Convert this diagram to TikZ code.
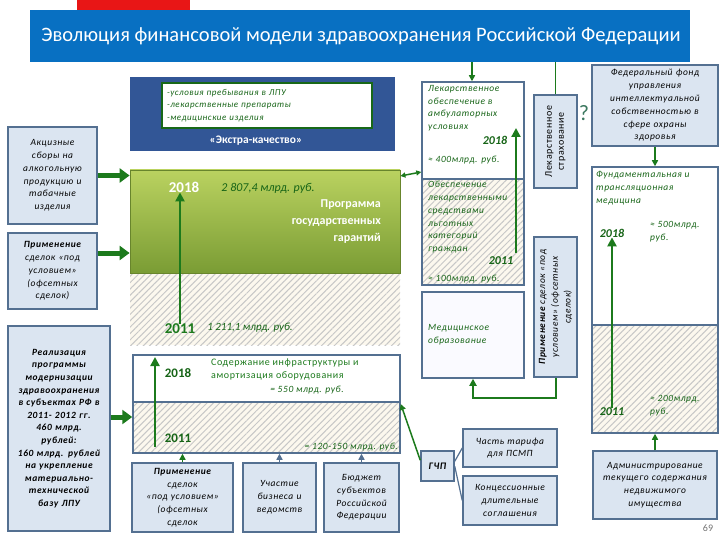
\documentclass[tikz,border=0pt]{standalone}
\usepackage{fontspec}
\setmainfont{Carlito}
\newfontfamily\lsf[LetterSpace=6]{Carlito}
\usetikzlibrary{arrows.meta,patterns.meta}
\definecolor{band}{RGB}{8,112,194}
\definecolor{redc}{RGB}{232,22,22}
\definecolor{dkblue}{RGB}{50,86,150}
\definecolor{bord}{RGB}{84,112,145}
\definecolor{lblue}{RGB}{219,229,241}
\definecolor{garrow}{RGB}{28,122,28}
\definecolor{gtext}{RGB}{22,100,22}
\definecolor{gtop}{RGB}{186,210,96}
\definecolor{gbot}{RGB}{122,156,52}
\definecolor{hatchbg}{RGB}{252,248,238}
\definecolor{qcol}{RGB}{60,120,95}
\newcommand\smf{\lsf\itshape\fontsize{9.5}{12.8}\selectfont}
\newcommand\smb{\lsf\bfseries\itshape\fontsize{9.5}{12.6}\selectfont}
\tikzset{
 box/.style={draw=bord,line width=1.5pt,fill=lblue,align=center,inner sep=1pt,font=\smf},
 gtx/.style={text=gtext,font=\smf,align=left,inner sep=0pt},
 garr/.style={draw=garrow,line width=2.5pt,-{Triangle[width=9pt,length=9pt]}},
 bigarr/.style={draw=garrow,line width=5pt,-{Triangle[width=14pt,length=10pt]}},
 smarr/.style={draw=garrow,line width=1.5pt,-{Triangle[width=6pt,length=6pt]}},
 smarrb/.style={draw=bord,line width=1.5pt,-{Triangle[width=6pt,length=6pt]}},
 hatch/.style={fill=hatchbg,postaction={pattern={Lines[angle=45,distance=4.5pt,line width=1pt]},pattern color=black!22}},
 yr/.style={text=garrow,font=\bfseries\fontsize{15}{16}\selectfont,inner sep=0pt},
 yri/.style={text=gtext,font=\bfseries\itshape\fontsize{12}{14}\selectfont,inner sep=0pt},
}
\begin{document}
\begin{tikzpicture}[x=1pt,y=-1pt]
\useasboundingbox (0,0) rectangle (720,540);
\fill[white] (0,0) rectangle (720,540);
\fill[redc] (77,0) rectangle (190,10);
\node[fill=band,minimum width=660pt,minimum height=52pt,inner sep=0pt] (band) at (360,36) {};
\node[text=white,font=\fontsize{20.5}{23}\selectfont] (title) at (361,36) {Эволюция финансовой модели здравоохранения Российской Федерации};

% left column
\node[box,minimum width=89pt,minimum height=97pt,text width=85pt] (akciz) at (52.5,175.5) {Акцизные\\сборы на\\алкогольную\\продукцию и\\табачные\\изделия};
\node[box,minimum width=89pt,minimum height=76pt,text width=85pt] (off1) at (52.5,271) {\textbf{Применение}\\сделок «под\\условием»\\(офсетных\\сделок)};
\node[box,minimum width=102pt,minimum height=205pt,text width=98pt,font=\smb] (realiz) at (59,428.5) {Реализация\\программы\\модернизации\\здравоохранения\\в субъектах РФ в\\2011- 2012 гг.\\460 млрд.\\рублей:\\160 млрд. рублей\\на укрепление\\материально-\\технической\\базу ЛПУ};

% Extra quality
\node[fill=dkblue,minimum width=265pt,minimum height=74pt,inner sep=0pt] (ekstra) at (262.5,114) {};
\node[draw=garrow!85!black,line width=1.5pt,fill=white,minimum width=210pt,minimum height=45pt,text width=200pt,align=left,text=gtext,font=\smf\fontsize{9}{12.5}\selectfont] (inner) at (267,105.5) {-условия пребывания в ЛПУ\\-лекарственные препараты\\-медицинские изделия};
\node[text=white,font=\bfseries\fontsize{11.5}{13}\selectfont,inner sep=0pt] (ekl) at (256,141) {«Экстра-качество»};

% program of state guarantees
\path[hatch] (130,273) rectangle (400,345);
\node[top color=gtop,bottom color=gbot,draw=gbot!85!black,line width=0.8pt,minimum width=270pt,minimum height=103pt,inner sep=0pt] (pgg) at (265,221.5) {};
\node[text=white,font=\bfseries\fontsize{15}{16}\selectfont,inner sep=0pt] (y18a) at (184,187) {2018};
\node[text=gtext,font=\itshape\fontsize{12}{14}\selectfont,inner sep=0pt] (sum18) at (268,188) {2 807,4 млрд. руб.};
\node[text=white,font=\bfseries\fontsize{12}{17}\selectfont,align=right,anchor=north east,inner sep=0pt] (pggt) at (381,200) {Программа\\государственных\\гарантий};
\node[yr] (y11a) at (180,329) {2011};
\node[text=gtext,font=\itshape\fontsize{11}{13}\selectfont,inner sep=0pt] (sum11) at (250,328) {1 211,1 млрд. руб.};
\draw[garr] (y11a.north) -- (y11a.north |- y18a.south);

% maintenance box
\fill[white] (133,355) rectangle (400,402);
\path[hatch] (133,402) rectangle (400,453);
\node[draw=bord,line width=1.5pt,minimum width=267pt,minimum height=98pt,inner sep=0pt] (soderzh) at (266.5,404) {};
\draw[bord,line width=1.2pt] (soderzh.west |- 0,402) -- (soderzh.east |- 0,402);
\coordinate (s11) at (155,447);
\coordinate (s18) at (155,357);
\draw[garr] (s11) -- (s18);
\node[text=gtext,font=\bfseries\fontsize{13}{15}\selectfont,inner sep=0pt] (y18b) at (178,373) {2018};
\node[text=gtext,font=\bfseries\fontsize{13}{15}\selectfont,inner sep=0pt] (y11b) at (178,438) {2011};
\node[text=garrow,font=\lsf\fontsize{10}{13}\selectfont,align=left,anchor=north west,inner sep=0pt] (sodt) at (211,359) {Содержание инфраструктуры и\\амортизация оборудования};
\node[text=gtext,font=\smf,inner sep=0pt] (s550) at (307,390) {= 550 млрд. руб.};
\node[text=gtext,font=\smf,inner sep=0pt,anchor=east] (s120) at (398,447) {= 120-150 млрд. руб.};

% bottom boxes
\node[box,minimum width=101pt,minimum height=69pt,text width=97pt] (b1) at (182.5,497.5) {\textbf{Применение}\\сделок\\«под условием»\\(офсетных\\сделок};
\node[box,minimum width=73pt,minimum height=69pt,text width=70pt] (b2) at (279.5,497.5) {Участие\\бизнеса и\\ведомств};
\node[box,minimum width=75pt,minimum height=69pt,text width=72pt] (b3) at (361.5,497.5) {Бюджет\\субъектов\\Российской\\Федерации};
\draw[smarr] (b1.north) -- (b1.north |- soderzh.south);
\draw[smarrb] (b2.north) -- (b2.north |- soderzh.south);
\draw[smarrb] (b3.north) -- (b3.north |- soderzh.south);

% left arrows
\draw[bigarr] (akciz.east) -- (akciz.east -| pgg.west);
\draw[bigarr] ([yshift=18pt]off1.east) -- ([yshift=18pt]off1.east -| pgg.west);
\draw[bigarr] ([yshift=11.5pt]realiz.east) -- ([yshift=11.5pt]realiz.east -| soderzh.west);

% drug provision box
\fill[white] (422,82) rectangle (524,179);
\path[hatch] (422,179) rectangle (524,285);
\node[draw=bord,line width=1.5pt,minimum width=102pt,minimum height=203pt,inner sep=0pt] (lek) at (473,183.5) {};
\draw[bord,line width=1.2pt] (lek.west |- 0,179) -- (lek.east |- 0,179);
\node[gtx,anchor=north west] (lekt) at (428,85) {Лекарственное\\обеспечение в\\амбулаторных\\условиях};
\node[gtx,anchor=west] (l400) at (428,160) {≈ 400млрд. руб.};
\node[gtx,anchor=north west] (lgt) at (428,181) {Обеспечение\\лекарственными\\средствами\\льготных\\категорий\\граждан};
\node[gtx,anchor=west] (l100) at (428,279) {≈ 100млрд. руб.};
\node[yri] (y18c) at (495,140) {2018};
\node[yri] (y11c) at (501,261) {2011};
\coordinate (l11) at (516,253);
\coordinate (l18) at (516,128);
\draw[garr] (l11) -- (l18);
\draw[smarr] ([xshift=-1pt]lek.north |- band.south) -- ([xshift=-1pt]lek.north);
\draw[draw=garrow,line width=1.5pt,{Triangle[width=5pt,length=5pt]}-{Triangle[width=5pt,length=5pt]}] ([yshift=45.5pt]pgg.east) -- ([yshift=11.5pt]lek.west);

% medical education
\node[draw=bord,line width=1.5pt,fill=blue!2,minimum width=102pt,minimum height=86pt,inner sep=0pt] (med) at (473,335) {};
\node[gtx,anchor=west] (medt) at (428,335) {Медицинское\\образование};

% vertical boxes
\node[box,minimum width=43pt,minimum height=93pt,inner sep=0pt] (lekstr) at (555.5,141.5) {};
\node[rotate=90,align=center,font=\lsf\fontsize{10}{12}\selectfont,inner sep=0pt] (lekstrt) at (lekstr.center) {Лекарственное\\страхование};
\draw[draw=garrow,line width=1.5pt] (lekstr.north) -- (lekstr.north |- band.south);
\node[text=qcol,font=\fontsize{22}{24}\selectfont,inner sep=0pt] (q) at (584,113) {?};
\node[box,minimum width=43pt,minimum height=140pt,inner sep=0pt] (off2) at (555.5,307) {};
\node[rotate=90,align=center,font=\smf,inner sep=0pt] (off2t) at (off2.center) {\textbf{Применение} сделок «под\\условием» (офсетных\\сделок)};
\draw[draw=garrow,line width=2pt,-{Triangle[width=7pt,length=7pt]}] (off2.south) -- ++(0,20) -| (med.south);

% PPP
\node[box,minimum width=33pt,minimum height=30pt,font=\lsf\bfseries\itshape\fontsize{10}{12}\selectfont] (gchp) at (437.5,466) {ГЧП};
\node[box,minimum width=94pt,minimum height=38pt,text width=90pt] (chast) at (510,448) {Часть тарифа\\для ПСМП};
\node[box,minimum width=94pt,minimum height=49pt,text width=90pt] (konc) at (510,500.5) {Концессионные\\длительные\\соглашения};
\draw[draw=garrow,line width=1.5pt,-{Triangle[width=6pt,length=6pt]}] ([yshift=-10pt]gchp.north west) -- (soderzh.east);
\draw[bord,line width=1.2pt] ([yshift=-11pt]gchp.north east) -- (chast.west);
\draw[bord,line width=1.2pt] ([yshift=-16pt]gchp.north east) -- (konc.west);

% right column
\node[box,minimum width=126pt,minimum height=81pt,text width=122pt] (fond) at (655,105.5) {Федеральный фонд\\управления\\интеллектуальной\\собственностью в\\сфере охраны\\здоровья};
\fill[white] (592,167) rectangle (718,325);
\path[hatch] (592,325) rectangle (718,433);
\node[draw=bord,line width=1.5pt,minimum width=126pt,minimum height=266pt,inner sep=0pt] (fund) at (655,300) {};
\draw[bord,line width=1.2pt] (fund.west |- 0,325) -- (fund.east |- 0,325);
\node[gtx,anchor=north west] (fundt) at (596,171) {Фундаментальная и\\трансляционная\\медицина};
\node[yri] (y18d) at (612,233) {2018};
\node[gtx,anchor=north west] (f500) at (650,221) {≈ 500млрд.\\руб.};
\node[yri] (y11d) at (612,412) {2011};
\node[gtx,anchor=north west] (f200) at (650,395) {≈ 200млрд.\\руб.};
\draw[garr] (y11d.north) -- (y18d.south);
\draw[smarr] (fond.south) -- (fund.north);
\node[box,minimum width=124pt,minimum height=68pt,text width=120pt] (admin) at (655,485) {Администрирование\\текущего содержания\\недвижимого\\имущества};
\draw[smarr] (admin.north) -- (fund.south);
\node[text=black!55,font=\fontsize{10}{12}\selectfont,inner sep=0pt] (pg) at (708,528) {69};
\end{tikzpicture}
\end{document}
